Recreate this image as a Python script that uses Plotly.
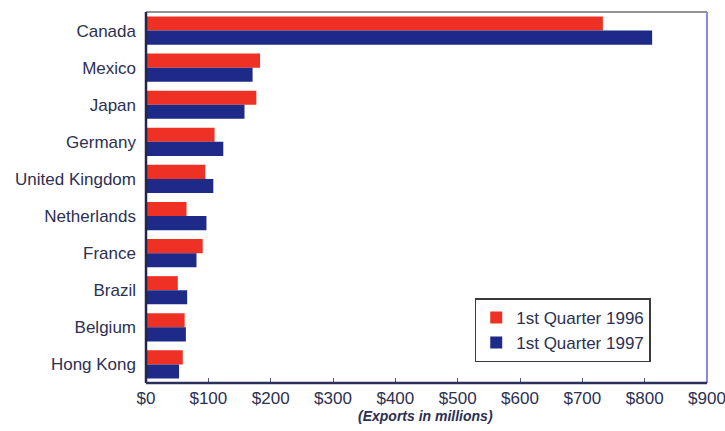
import plotly.graph_objects as go

countries = ["Canada", "Mexico", "Japan", "Germany", "United Kingdom",
             "Netherlands", "France", "Brazil", "Belgium", "Hong Kong"]
q1_1996 = [733, 183, 177, 110, 95, 65, 91, 51, 62, 59]
q1_1997 = [812, 171, 158, 124, 108, 97, 81, 66, 64, 53]
x_ticks = [0, 100, 200, 300, 400, 500, 600, 700, 800, 900]
x_tick_labels = ["$0", "$100", "$200", "$300", "$400", "$500",
                 "$600", "$700", "$800", "$900"]

RED = "#ee3124"
BLUE = "#1d2a87"
INK = "#2c3052"
FONT = "Liberation Sans, Arial, sans-serif"

fig = go.Figure()
fig.add_trace(go.Bar(y=countries, x=q1_1996, orientation="h",
                     name="1st Quarter 1996", marker_color=RED,
                     marker_line_width=0))
fig.add_trace(go.Bar(y=countries, x=q1_1997, orientation="h",
                     name="1st Quarter 1997", marker_color=BLUE,
                     marker_line_width=0))

fig.update_layout(
    width=725, height=431,
    margin=dict(l=146, r=18, t=12, b=48),
    paper_bgcolor="white", plot_bgcolor="white",
    barmode="group", bargap=0.24, bargroupgap=0.0,
    font=dict(family=FONT, color=INK, size=17),
    showlegend=True,
    legend=dict(x=0.586, y=0.228, xanchor="left", yanchor="top",
                bgcolor="white", bordercolor="#3a3a3a", borderwidth=1.5,
                font=dict(size=17, color=INK), traceorder="normal",
                itemwidth=30, tracegroupgap=0),
)

fig.update_xaxes(
    range=[0, 900], tickvals=x_ticks, ticktext=x_tick_labels,
    automargin=False, ticklabeloverflow="allow",
    showgrid=False, zeroline=False, showline=False,
    ticks="inside", ticklen=5, tickcolor="#555a70", tickwidth=1,
    tickfont=dict(size=17, color=INK), ticklabelstandoff=3,
)
fig.update_yaxes(
    autorange="reversed", automargin=False,
    showgrid=False, zeroline=False, showline=False,
    ticks="", tickfont=dict(size=17, color=INK), ticklabelstandoff=9,
)

# frame around the plotting area
fig.add_shape(type="line", xref="paper", yref="paper", x0=0, x1=1, y0=1, y1=1,
              line=dict(color="#6e6e76", width=1.5))
fig.add_shape(type="line", xref="paper", yref="paper", x0=1, x1=1, y0=0, y1=1,
              line=dict(color="#8090d8", width=2))
fig.add_shape(type="line", xref="paper", yref="paper", x0=0, x1=0, y0=0, y1=1,
              line=dict(color="#22264a", width=2.5))
fig.add_shape(type="line", xref="paper", yref="paper", x0=0, x1=1, y0=0, y1=0,
              line=dict(color="#2a2f5c", width=2.5))

fig.add_annotation(text="(Exports in millions)", xref="paper", yref="paper",
                   x=0.499, y=-0.088, xanchor="center", yanchor="middle",
                   showarrow=False,
                   font=dict(family=FONT, size=14, color=INK, style="italic",
                             weight="bold"))

fig.write_html("out.html")
